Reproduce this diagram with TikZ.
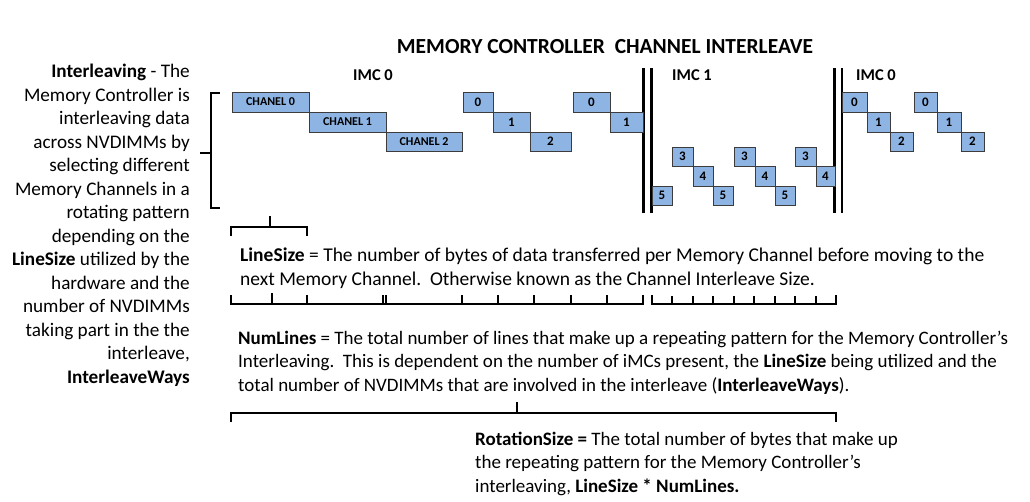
\documentclass[tikz,border=0pt]{standalone}
\usepackage{fontspec}
\setmainfont{Carlito}
\definecolor{boxblue}{RGB}{142,180,227}
\definecolor{boxline}{RGB}{60,60,60}
\begin{document}
\begin{tikzpicture}[x=1pt,y=-1pt,
  cell/.style={draw=boxline, line width=0.9pt, fill=boxblue, inner sep=0pt, font=\fontsize{13}{14}\selectfont\bfseries},
  chan/.style={cell, font=\fontsize{12}{13}\selectfont\bfseries},
  imclabel/.style={inner sep=0pt, font=\fontsize{16.5}{18}\selectfont\bfseries},
  body/.style={inner sep=0pt, align=left, anchor=north west, font=\fontsize{19.5}{23.5}\selectfont},
  bodysm/.style={body, font=\fontsize{19}{23.5}\selectfont},
  brk/.style={line width=1.8pt},
  divider/.style={line width=2.2pt}]
\useasboundingbox (0,0) rectangle (1030,501);

% title
\node[inner sep=0pt, font=\fontsize{21.5}{24}\selectfont\bfseries] (title) at (605,47) {MEMORY CONTROLLER\ \ CHANNEL INTERLEAVE};

% left description
\node[inner sep=0pt, align=right, anchor=north east, font=\fontsize{19.2}{23.5}\selectfont] (desc) at (190,64)
 {\textbf{Interleaving} - The\\ Memory Controller is\\ interleaving data\\ across NVDIMMs by\\ selecting different\\ Memory Channels in a\\ rotating pattern\\ depending on the\\ \textbf{LineSize} utilized by the\\ hardware and the\\ number of NVDIMMs\\ taking part in the the\\ interleave,\\ \textbf{InterleaveWays}};

% left bracket
\coordinate (lbt) at (211,93);
\coordinate (lbb) at (211,208);
\coordinate (lbm) at (211,153);
\draw[brk] ([xshift=9pt]lbt) -- (lbt) -- (lbb) -- ([xshift=9pt]lbb);
\draw[brk] (lbm) -- ([xshift=-11pt]lbm);

% IMC labels
\node[imclabel] (imc0a) at (373,75) {IMC 0};
\node[imclabel] (imc1) at (692,75) {IMC 1};
\node[imclabel] (imc0b) at (876,75) {IMC 0};

% dividers
\draw[divider] (643.5,68) coordinate (d1t) -- (643.5,213) coordinate (d1b);
\draw[divider] (651.5,68) coordinate (d2t) -- (651.5,213) coordinate (d2b);
\draw[divider] (834.5,68) coordinate (d3t) -- (834.5,213) coordinate (d3b);
\draw[divider] (842,68) coordinate (d4t) -- (842,213) coordinate (d4b);

% channel boxes
\foreach \n/\xa/\xb/\ya/\yb/\t in {ch0/232/309/92/112/CHANEL 0, ch1/309/386/112/132/CHANEL 1, ch2/386/462/132/151/CHANEL 2}{
  \pgfmathsetmacro\w{\xb-\xa}\pgfmathsetmacro\h{\yb-\ya}
  \node[chan, minimum width=\w pt, minimum height=\h pt] (\n) at ({(\xa+\xb)/2},{(\ya+\yb)/2}) {\t};
}
\foreach \n/\xa/\xb/\ya/\yb/\t in {
  a0/463/493/92/112/0, a1/493/530/112/132/1, a2/530/571/132/151/2,
  b0/573/610/92/112/0, b1/610/643/112/132/1,
  c5/652/672/186/205/5, c3/672/693/147/166/3, c4/693/713/166/186/4,
  d5/713/733/186/205/5, d3/734/755/147/166/3, d4/755/775/166/186/4,
  e5/775/795/186/205/5, e3/795/816/147/166/3, e4/816/835/166/186/4,
  f0/842/867/92/112/0, f1/867/890/112/132/1, f2/890/913/132/151/2,
  g0/914/937/92/112/0, g1/937/961/112/132/1, g2/961/984/132/151/2}{
  \pgfmathsetmacro\w{\xb-\xa}\pgfmathsetmacro\h{\yb-\ya}
  \node[cell, minimum width=\w pt, minimum height=\h pt] (\n) at ({(\xa+\xb)/2},{(\ya+\yb)/2}) {\t};
}

% LineSize bracket
\coordinate (lsl) at (231,227);
\coordinate (lsr) at (307,227);
\coordinate (lsm) at (270,227);
\draw[brk] ([yshift=-9pt]lsl) -- (lsl) -- (lsr) -- ([yshift=-9pt]lsr);
\draw[brk] (lsm) -- ([yshift=11pt]lsm);

\node[body] (linesize) at (240,248)
 {\textbf{LineSize} = The number of bytes of data transferred per Memory Channel before moving to the\\ next Memory Channel.\ \ Otherwise known as the Channel Interleave Size.};

% NumLines ruler
\draw[brk] (231,295) -- (231,304) -- (643,304) -- (643,295);
\foreach \x in {307,383,386,462,498,534,571,607}{\draw[brk] (\x,295) -- (\x,304);}
\draw[brk] (652,295) -- (652,304) -- (836,304) -- (836,295);
\foreach \x in {672,693,713,734,754,775,795,816}{\draw[brk] (\x,296) -- (\x,304);}
\coordinate (nlm) at (272,304);
\draw[brk] (nlm) -- ([yshift=11pt]nlm);

\node[bodysm] (numlines) at (238,330.5)
 {\textbf{NumLines} = The total number of lines that make up a repeating pattern for the Memory Controller’s\\ Interleaving.\ \ This is dependent on the number of iMCs present, the \textbf{LineSize} being utilized and the\\ total number of NVDIMMs that are involved in the interleave (\textbf{InterleaveWays}).};

% RotationSize bracket
\coordinate (rsl) at (231,413);
\coordinate (rsr) at (836,413);
\coordinate (rsm) at (517,413);
\draw[brk] ([yshift=-9pt]rsl) -- (rsl) -- (rsr) -- ([yshift=-9pt]rsr);
\draw[brk] (rsm) -- ([yshift=11pt]rsm);

\node[bodysm] (rotsize) at (475,431.5)
 {\textbf{RotationSize =} The total number of bytes that make up\\ the repeating pattern for the Memory Controller’s\\ interleaving, \textbf{LineSize * NumLines.}};
\end{tikzpicture}
\end{document}
